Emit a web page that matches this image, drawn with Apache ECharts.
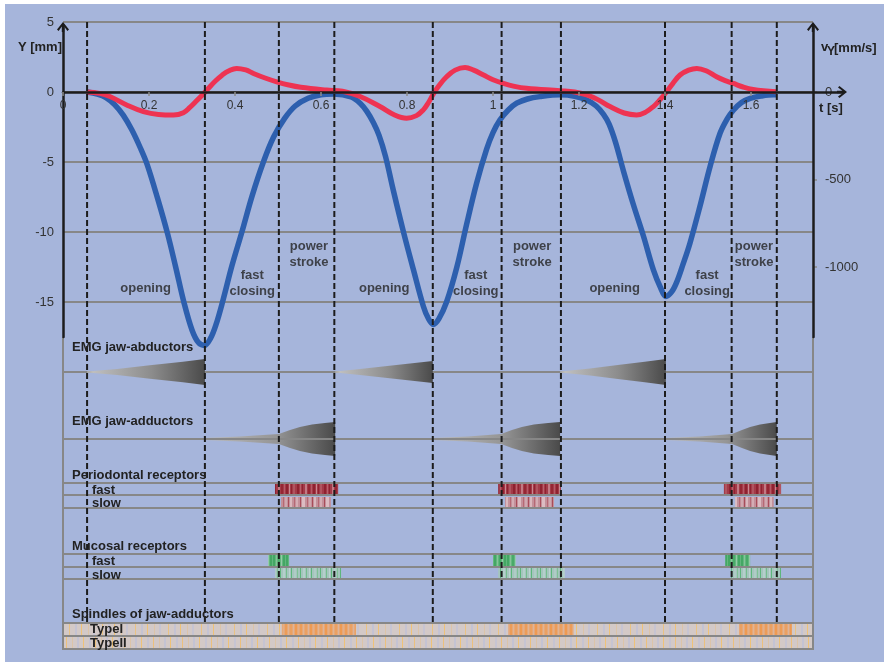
<!DOCTYPE html>
<html><head><meta charset="utf-8">
<script src="https://cdn.jsdelivr.net/npm/echarts@6/dist/echarts.min.js"></script>
<style>
html,body{margin:0;padding:0;background:#fff;}
#bg{position:absolute;left:5px;top:4px;width:879px;height:658px;background:#a6b5db;}
#chart{position:absolute;left:0;top:0;width:884px;height:666px;}
</style></head><body><div id="bg"></div><div id="chart"></div>
<script>
// ---------------- data ----------------
const timeTicks = [0, 0.2, 0.4, 0.6, 0.8, 1, 1.2, 1.4, 1.6];
const velTicks = [0, -500, -1000];

// jaw displacement Y [mm] vs t [s]
const dispY = [[0.056,0],[0.08,-0.15],[0.1,-0.4],[0.12,-0.9],[0.14,-1.65],[0.16,-2.7],[0.18,-4.0],[0.196,-5.2],[0.22,-7.6],[0.243,-10.1],[0.262,-12.5],[0.281,-15],[0.3,-17.0],[0.315,-17.9],[0.329,-18.1],[0.343,-17.6],[0.356,-16.6],[0.371,-15],[0.393,-12.4],[0.416,-10],[0.44,-7.4],[0.466,-5],[0.49,-3.2],[0.515,-1.9],[0.54,-1.0],[0.57,-0.45],[0.6,-0.2],[0.63,-0.15],[0.67,-0.35],[0.691,-0.8],[0.707,-1.4],[0.722,-2.2],[0.735,-3.1],[0.75,-4.6],[0.768,-7],[0.791,-9.9],[0.815,-12.7],[0.838,-15.3],[0.85,-16.2],[0.861,-16.6],[0.874,-16.2],[0.892,-15.0],[0.916,-12.5],[0.939,-9.4],[0.962,-6.5],[0.985,-4.1],[1.0,-2.9],[1.016,-2.0],[1.035,-1.3],[1.055,-0.8],[1.08,-0.5],[1.109,-0.33],[1.156,-0.2],[1.19,-0.3],[1.218,-0.57],[1.24,-1.0],[1.257,-1.6],[1.27,-2.3],[1.285,-3.6],[1.303,-5.6],[1.326,-8],[1.35,-10.3],[1.373,-12.7],[1.39,-14.0],[1.402,-14.6],[1.415,-14.3],[1.427,-13.6],[1.442,-12.3],[1.458,-10.8],[1.481,-8.2],[1.505,-5.3],[1.528,-2.95],[1.545,-1.9],[1.559,-1.3],[1.578,-0.75],[1.598,-0.45],[1.625,-0.28],[1.652,-0.2],[1.66,-0.2]];

// jaw velocity vY [mm/s] vs t [s]
const velY = [[0.055,0],[0.085,-8],[0.109,-26],[0.148,-74],[0.187,-112],[0.222,-128],[0.257,-131],[0.28,-118],[0.295,-88],[0.31,-52],[0.325,-14],[0.34,26],[0.355,64],[0.37,96],[0.385,120],[0.404,135],[0.425,126],[0.443,106],[0.47,80],[0.497,58],[0.525,40],[0.553,27],[0.613,11],[0.65,4],[0.691,-26],[0.737,-83],[0.77,-130],[0.799,-150],[0.822,-135],[0.838,-102],[0.85,-60],[0.861,-12],[0.875,38],[0.892,87],[0.912,125],[0.935,140],[0.955,125],[0.978,97],[1.0,70],[1.024,49],[1.05,32],[1.078,21],[1.156,7],[1.19,0],[1.218,-17],[1.245,-45],[1.272,-83],[1.305,-120],[1.334,-131],[1.355,-115],[1.373,-83],[1.388,-45],[1.402,-4],[1.418,48],[1.435,97],[1.455,125],[1.474,135],[1.497,120],[1.52,87],[1.54,65],[1.559,49],[1.58,30],[1.605,15],[1.658,2]];

// phase boundaries (dashed lines) [s]
const phaseTimes = [0.056, 0.330, 0.502, 0.631, 0.860, 1.020, 1.158, 1.400, 1.555, 1.660];

// phase annotations: text, t [s], Y [mm]
const phaseNames = ['opening', 'fast\nclosing', 'power\nstroke', 'opening', 'fast\nclosing', 'power\nstroke', 'opening', 'fast\nclosing', 'power\nstroke'];
const phaseLabelT = [0.192, 0.440, 0.572, 0.747, 0.960, 1.091, 1.283, 1.498, 1.607];
const phaseLabelY = [-14.0, -13.7, -11.6, -14.0, -13.7, -11.6, -14.0, -13.7, -11.6];

// EMG envelopes: [t, half amplitude (a.u.)]
const emgAbductors = [
  [[0.056,0.5],[0.126,3],[0.202,6.7],[0.279,10.3],[0.330,13]],
  [[0.633,0.5],[0.691,3],[0.749,5.8],[0.807,8.6],[0.860,11]],
  [[1.156,0.5],[1.226,3.6],[1.295,7.2],[1.353,10.2],[1.402,13]]
];
const emgAdductors = [
  [[0.330,1],[0.412,2.5],[0.502,5],[0.528,9],[0.551,12],[0.579,14.5],[0.609,16],[0.633,17]],
  [[0.860,1],[0.942,2.5],[1.019,5],[1.044,9],[1.067,12],[1.095,14.5],[1.128,16],[1.156,17]],
  [[1.402,1],[1.481,2.5],[1.556,5],[1.579,9],[1.598,12],[1.621,14.5],[1.644,16],[1.660,17]]
];

// receptor firing periods [t start, t end]
const perioFast = [[0.493,0.640],[1.012,1.158],[1.537,1.670]];
const perioSlow = [[0.507,0.623],[1.028,1.142],[1.563,1.653]];
const mucosalFast = [[0.477,0.526],[1.000,1.053],[1.540,1.598]];
const mucosalSlow = [[0.493,0.647],[1.012,1.167],[1.553,1.670]];
const spindleTypeIBurst = [[0.509,0.681],[1.035,1.188],[1.572,1.695]];

// ---------------- layout / style ----------------
const FONT = 'Liberation Sans, Arial, Helvetica, sans-serif';
const SEC_PX = 430;
const TMAX = 750 / SEC_PX;
const TMAX_ARROW = 779 / SEC_PX;
const GRAY = '#878787';
const BLACK = '#1c1c1c';
const LANE = {
  abdBase: 350, addBase: 417,
  lines: [417, 461, 473, 486, 532, 545, 557, 601, 614],
  perioFast: [461, 473], perioSlow: [473, 486],
  mucFast: [532, 545], mucSlow: [545, 557],
  spI: [601, 614], spII: [614, 627],
  dashEnd: 600, frameTop: 315, bottom: 627
};
const ARROW = 'path://M6,0 L12,7.6 L10.4,9 L7.2,4.6 L7.2,10 L4.8,10 L4.8,4.6 L1.6,9 L0,7.6 Z';

function stripes(w, base, list) {
  const c = document.createElement('canvas');
  c.width = w; c.height = 40;
  const g = c.getContext('2d');
  g.fillStyle = base; g.fillRect(0, 0, w, 40);
  list.forEach(s => { g.fillStyle = s[2]; g.fillRect(s[0], 0, s[1], 40); });
  return { image: c, repeat: 'repeat' };
}
const patPerioFast = stripes(27, '#a33a48', [[0,2,'#8f2230'],[3,1,'#b8606b'],[5,1,'#8f2230'],[8,2,'#c27a84'],[11,2,'#952633'],[14,1,'#b55a66'],[16,2,'#8f2230'],[19,1,'#c98890'],[21,1,'#8f2230'],[23,2,'#b0545f']]);
const patPerioSlow = stripes(24, '#c4909a', [[0,1,'#a84c59'],[2,2,'#d9b8be'],[6,1,'#b66874'],[8,2,'#d4adb4'],[12,1,'#a84c59'],[14,3,'#dcbcc2'],[19,1,'#b66874'],[21,2,'#d0a8b0']]);
const patMucFast = stripes(13, '#62b67e', [[0,2,'#44a764'],[3,1,'#86c499'],[5,2,'#49aa68'],[8,1,'#94cba6'],[10,2,'#44a764']]);
const patMucSlow = stripes(20, '#a4c5bd', [[0,1,'#5db67c'],[3,2,'#b4cfcb'],[6,1,'#74bd8d'],[9,1,'#bcd3d1'],[11,1,'#5db67c'],[14,2,'#afcbc6'],[17,1,'#7fc195']]);
const patSpI = stripes(33, '#d3c9c7', [[3,1,'#e9c283'],[9,2,'#c4c3d3'],[15,1,'#efc277'],[22,1,'#dcc4a8'],[27,2,'#c6c4d2']]);
const patSpII = stripes(29, '#d3c9c7', [[2,2,'#c6c4d2'],[8,1,'#ecc07c'],[14,1,'#dcc4a8'],[19,2,'#c4c3d3'],[25,1,'#efc277']]);
const patSpBurst = stripes(15, '#e6a878', [[0,2,'#ec9c58'],[3,1,'#e0b495'],[5,2,'#eaa062'],[8,1,'#dcb49c'],[10,2,'#ee9a52'],[13,1,'#e2ae8a']]);

function barSeries(intervals, rows, fill) {
  return {
    type: 'custom', xAxisIndex: 3, yAxisIndex: 5, silent: true,
    data: intervals, encode: { x: [0, 1] },
    renderItem: (p, api) => {
      const a = api.coord([api.value(0), rows[0]]);
      const b = api.coord([api.value(1), rows[1]]);
      return { type: 'rect', shape: { x: a[0], y: a[1], width: b[0] - a[0], height: b[1] - a[1] }, style: { fill } };
    }
  };
}
function emgSeries(profiles, base, stops) {
  return {
    type: 'custom', xAxisIndex: 3, yAxisIndex: 5, silent: true,
    data: profiles.map((pr, i) => [pr[0][0], i]), encode: { x: 0 },
    renderItem: (p, api) => {
      const pr = profiles[api.value(1)];
      const top = pr.map(d => api.coord([d[0], base - d[1]]));
      const bot = pr.slice().reverse().map(d => api.coord([d[0], base + d[1]]));
      return { type: 'polygon', shape: { points: top.concat(bot) },
        style: { fill: new echarts.graphic.LinearGradient(0, 0, 1, 0, stops) } };
    }
  };
}

const chart = echarts.init(document.getElementById('chart'), null, { renderer: 'canvas' });

const axisText = { color: '#333', fontFamily: FONT };
const option = {
  backgroundColor: 'transparent',
  animation: false,
  grid: [
    { left: 63, top: 22, width: 750, height: 350 },
    { left: 63, top: 22, width: 779, height: 70 },
    { left: 63, top: 27, width: 750, height: 310 },
    { left: 63, top: 22, width: 750, height: 627 }
  ],
  xAxis: [
    { gridIndex: 0, type: 'value', min: 0, max: TMAX, show: false },
    { gridIndex: 1, type: 'value', min: 0, max: TMAX_ARROW, position: 'bottom',
      axisLine: { show: true, onZero: false, symbol: ['none', ARROW], symbolSize: [12, 10], lineStyle: { color: BLACK, width: 2.5 } },
      axisTick: { show: true, length: 4, customValues: timeTicks, lineStyle: { color: '#8a8a8a', width: 1.5 } },
      axisLabel: Object.assign({ customValues: timeTicks, margin: 8, fontSize: 12, formatter: v => String(v) }, axisText),
      splitLine: { show: false }, z: 6 },
    { gridIndex: 2, type: 'value', min: 0, max: 1, show: false },
    { gridIndex: 3, type: 'value', min: 0, max: TMAX, show: false }
  ],
  yAxis: [
    { gridIndex: 0, type: 'value', position: 'left', min: -20, max: 5, interval: 5,
      axisLine: { show: false }, axisTick: { show: false },
      axisLabel: Object.assign({ formatter: v => (v >= -15 ? String(v) : ''), margin: 9, fontSize: 13 }, axisText),
      splitLine: { show: true, lineStyle: { color: GRAY, width: 2 } } },
    { gridIndex: 0, type: 'value', position: 'right', min: -1600, max: 400,
      axisLine: { show: false },
      axisTick: { show: true, length: 4, customValues: velTicks, lineStyle: { color: '#8a8a8a', width: 1.5 } },
      axisLabel: Object.assign({ customValues: velTicks, margin: 12, fontSize: 13, formatter: v => String(v) }, axisText),
      splitLine: { show: false } },
    { gridIndex: 1, type: 'value', min: 0, max: 1, show: false },
    { gridIndex: 2, type: 'value', position: 'left', min: 0, max: 1, z: 6,
      axisLine: { show: true, onZero: false, symbol: ['none', ARROW], symbolSize: [12, 10], lineStyle: { color: BLACK, width: 2.5 } },
      axisTick: { show: false }, axisLabel: { show: false }, splitLine: { show: false } },
    { gridIndex: 2, type: 'value', position: 'right', min: 0, max: 1, z: 6,
      axisLine: { show: true, onZero: false, symbol: ['none', ARROW], symbolSize: [12, 10], lineStyle: { color: BLACK, width: 2.5 } },
      axisTick: { show: false }, axisLabel: { show: false }, splitLine: { show: false } },
    { gridIndex: 3, type: 'value', min: 0, max: LANE.bottom, inverse: true, show: false }
  ],
  series: [
    barSeries([[0, TMAX]], LANE.spI, patSpI),
    barSeries([[0, TMAX]], LANE.spII, patSpII),
    barSeries(spindleTypeIBurst, [LANE.spI[0] + 1, LANE.spI[1] - 1], patSpBurst),
    barSeries(perioFast, LANE.perioFast, patPerioFast),
    barSeries(perioSlow, [LANE.perioSlow[0] + 2, LANE.perioSlow[1] - 1], patPerioSlow),
    barSeries(mucosalFast, LANE.mucFast, patMucFast),
    barSeries(mucosalSlow, [LANE.mucSlow[0] + 1, LANE.mucSlow[1]], patMucSlow),
    emgSeries(emgAbductors, LANE.abdBase, [{ offset: 0, color: '#c4c4c4' }, { offset: 0.55, color: '#8c8c8c' }, { offset: 1, color: '#4a4a4a' }]),
    emgSeries(emgAdductors, LANE.addBase, [{ offset: 0, color: '#bdbdbd' }, { offset: 0.55, color: '#959595' }, { offset: 1, color: '#4a4a4a' }]),
    {
      type: 'custom', xAxisIndex: 3, yAxisIndex: 5, silent: true,
      data: LANE.lines.map(y => [0, y]), encode: { x: 0, y: 1 },
      renderItem: (p, api) => {
        const a = api.coord([0, api.value(1)]), b = api.coord([TMAX, api.value(1)]);
        return { type: 'line', shape: { x1: a[0], y1: a[1], x2: b[0], y2: b[1] }, style: { stroke: GRAY, lineWidth: 2 } };
      }
    },
    {
      type: 'custom', xAxisIndex: 3, yAxisIndex: 5, silent: true,
      data: [[0, 0]], encode: { x: 0, y: 1 },
      renderItem: (p, api) => {
        const tl = api.coord([0, LANE.frameTop]), bl = api.coord([0, LANE.bottom]);
        const tr = api.coord([TMAX, LANE.frameTop]), br = api.coord([TMAX, LANE.bottom]);
        return { type: 'polyline', shape: { points: [tl, bl, br, tr] }, style: { stroke: GRAY, lineWidth: 2, fill: null } };
      }
    },
    { name: 'Y', type: 'line', xAxisIndex: 0, yAxisIndex: 0, data: dispY, smooth: 0.35, showSymbol: false, silent: true,
      clip: false, lineStyle: { color: '#2d5fae', width: 5.5 } },
    { name: 'vY', type: 'line', xAxisIndex: 0, yAxisIndex: 1, data: velY, smooth: 0.4, showSymbol: false, silent: true,
      clip: false, lineStyle: { color: '#ee3352', width: 5 } },
    {
      type: 'custom', xAxisIndex: 3, yAxisIndex: 5, silent: true, z: 5,
      data: phaseTimes.map(t => [t, 0]), encode: { x: 0, y: 1 },
      renderItem: (p, api) => {
        const a = api.coord([api.value(0), 0]), b = api.coord([api.value(0), LANE.dashEnd]);
        return { type: 'line', shape: { x1: a[0], y1: a[1], x2: b[0], y2: b[1] }, style: { stroke: BLACK, lineWidth: 2, lineDash: [6, 3] } };
      }
    },
    {
      type: 'scatter', xAxisIndex: 0, yAxisIndex: 0, silent: true, symbolSize: 1, z: 6,
      itemStyle: { color: 'rgba(0,0,0,0)' },
      data: phaseNames.map((n, i) => ({ name: n, value: [phaseLabelT[i], phaseLabelY[i]] })),
      label: { show: true, position: 'inside', formatter: p => p.name, fontFamily: FONT, fontWeight: 'bold', fontSize: 13, lineHeight: 16, color: '#242424', align: 'center' }
    }
  ],
  graphic: [
    ...[
      ['Y [mm]', 62, 47, 'right'],
      ['t [s]', 819, 108, 'left'],
      ['[mm/s]', 834, 48, 'left'],
      ['v', 821, 47, 'left'],
      ['EMG jaw-abductors', 72, 347, 'left'],
      ['EMG jaw-adductors', 72, 421, 'left'],
      ['Periodontal receptors', 72, 475, 'left'],
      ['fast', 92, 490, 'left'],
      ['slow', 92, 503, 'left'],
      ['Mucosal receptors', 72, 546, 'left'],
      ['fast', 92, 561, 'left'],
      ['slow', 92, 575, 'left'],
      ['Spindles of jaw-adductors', 72, 614, 'left'],
      ['TypeI', 90, 629, 'left'],
      ['TypeII', 90, 643, 'left']
    ].map(([t, x, y, al]) => ({ type: 'text', x, y, z: 100, silent: true,
      style: { text: t, font: 'bold 13px ' + FONT, fill: '#222', align: al, verticalAlign: 'middle' } })),
    { type: 'text', x: 827, y: 52, z: 100, silent: true,
      style: { text: 'Y', font: 'bold 12px ' + FONT, fill: '#222', align: 'left', verticalAlign: 'middle' } }
  ]
};
chart.setOption(option);
</script></body></html>
